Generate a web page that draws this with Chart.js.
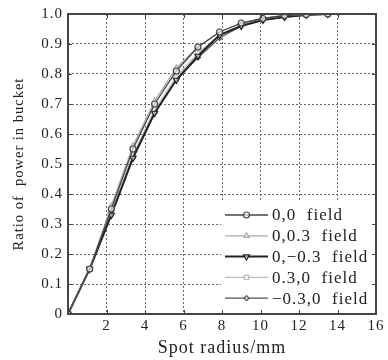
<!DOCTYPE html>
<html>
<head>
<meta charset="utf-8">
<script src="https://cdn.jsdelivr.net/npm/chart.js@4/dist/chart.umd.min.js"></script>
<style>
html,body{margin:0;padding:0;background:#fff;}
#wrap{width:388px;height:360px;position:relative;}
</style>
</head>
<body>
<div id="wrap"><canvas id="c" width="388" height="360"></canvas></div>
<script>
const spotRadius = [0, 1.125, 2.25, 3.375, 4.5, 5.625, 6.75, 7.875, 9, 10.125, 11.25, 12.375, 13.5];
const labels = ['0,0  field', '0,0.3  field', '0,\u22120.3  field', '0.3,0  field', '\u22120.3,0  field'];
const field00   = [0, 0.15, 0.35, 0.55, 0.70, 0.81, 0.89, 0.94, 0.97, 0.985, 0.995, 0.998, 1.0];
const field003  = [0, 0.15, 0.36, 0.56, 0.71, 0.82, 0.89, 0.94, 0.97, 0.985, 0.995, 0.998, 1.0];
const field0m03 = [0, 0.15, 0.33, 0.52, 0.67, 0.78, 0.86, 0.93, 0.96, 0.98, 0.99, 0.997, 1.0];
const field030  = [0, 0.15, 0.34, 0.53, 0.68, 0.79, 0.87, 0.93, 0.965, 0.98, 0.99, 0.997, 1.0];
const fieldm030 = [0, 0.15, 0.33, 0.52, 0.67, 0.78, 0.855, 0.92, 0.96, 0.98, 0.99, 0.997, 1.0];
const xTicks = [2, 4, 6, 8, 10, 12, 14, 16];
const yTicks = [0, 0.1, 0.2, 0.3, 0.4, 0.5, 0.6, 0.7, 0.8, 0.9, 1.0];

const seriesValues = [field00, field003, field0m03, field030, fieldm030];
const styles = [
  {color:'#444', style:'circle', w:1.3, r:3},
  {color:'#aaa', style:'triangle', w:1.3, r:3},
  {color:'#222', style:'triangle', rot:180, w:2, r:3.5},
  {color:'#bbb', style:'rect', w:1.3, r:3},
  {color:'#555', style:'rectRot', w:1.2, r:2.5}
];
const datasets = seriesValues.map((vals, i) => ({
  label: labels[i],
  data: spotRadius.map((x, j) => ({x: x, y: vals[j]})),
  borderColor: styles[i].color,
  backgroundColor: '#fff',
  borderWidth: styles[i].w,
  pointStyle: styles[i].style,
  pointRotation: styles[i].rot || 0,
  pointRadius: styles[i].r,
  pointBorderWidth: 1.2,
  pointBorderColor: styles[i].color,
  pointBackgroundColor: 'rgba(255,255,255,0.6)',
  tension: 0
}));

const FONT = '"Liberation Serif", "DejaVu Serif", serif';
const TEXT = '#222';

const spacingPlugin = {
  id: 'spacing',
  beforeInit(chart) { chart.ctx.letterSpacing = '1px'; },
  beforeLayout(chart) { chart.ctx.letterSpacing = '1px'; },
  beforeDraw(chart) { chart.ctx.letterSpacing = '1px'; }
};

const overlayPlugin = {
  id: 'overlay',
  afterDraw(chart) {
    const {ctx} = chart;
    const a = chart.chartArea;
    ctx.save();
    const x0 = a.right - 151, lineLen = 43, gap = 4, startY = a.bottom - 99, step = 20.8;
    ctx.fillStyle = '#fff';
    ctx.fillRect(a.left + 153, a.bottom - 113, a.right - a.left - 153, 112);
    ctx.font = '17px ' + FONT;
    ctx.letterSpacing = '1px';
    ctx.textBaseline = 'middle';
    chart.data.datasets.forEach((ds, i) => {
      const y = startY + i * step;
      ctx.strokeStyle = ds.borderColor;
      ctx.lineWidth = ds.borderWidth;
      ctx.beginPath();
      ctx.moveTo(x0, y);
      ctx.lineTo(x0 + lineLen, y);
      ctx.stroke();
      ctx.lineWidth = ds.pointBorderWidth;
      ctx.fillStyle = ds.pointBackgroundColor;
      Chart.helpers.drawPoint(ctx, {pointStyle: ds.pointStyle, rotation: ds.pointRotation, radius: ds.pointRadius, borderWidth: ds.pointBorderWidth}, x0 + lineLen / 2, y);
      ctx.fillStyle = TEXT;
      ctx.fillText(ds.label, x0 + lineLen + gap, y + 1);
    });
    ctx.strokeStyle = '#444';
    ctx.lineWidth = 1;
    const xs = chart.scales.x, ys = chart.scales.y;
    ctx.beginPath();
    xTicks.slice(0, -1).forEach(v => {
      const px = Math.round(xs.getPixelForValue(v)) + 0.5;
      ctx.moveTo(px, a.bottom); ctx.lineTo(px, a.bottom - 4);
      ctx.moveTo(px, a.top); ctx.lineTo(px, a.top + 4);
    });
    yTicks.slice(1, -1).forEach(v => {
      const py = Math.round(ys.getPixelForValue(v)) + 0.5;
      ctx.moveTo(a.left, py); ctx.lineTo(a.left + 4, py);
      ctx.moveTo(a.right, py); ctx.lineTo(a.right - 4, py);
    });
    ctx.stroke();
    ctx.strokeStyle = '#444';
    ctx.lineWidth = 2;
    ctx.strokeRect(a.left, a.top, a.right - a.left, a.bottom - a.top);
    ctx.restore();
  }
};

new Chart(document.getElementById('c'), {
  type: 'line',
  data: {datasets: datasets},
  options: {
    responsive: false,
    animation: false,
    devicePixelRatio: 1,
    layout: {padding: {top: 9, right: 12, left: 10, bottom: 0}},
    plugins: {legend: {display: false}, tooltip: {enabled: false}},
    scales: {
      x: {
        type: 'linear', min: 0, max: 16,
        afterBuildTicks(scale) { scale.ticks = [0].concat(xTicks).map(v => ({value: v})); },
        afterFit(scale) { scale.height = 46; },
        ticks: {
          color: TEXT, font: {family: FONT, size: 15}, padding: 3, maxRotation: 0,
          callback: v => v === 0 ? '' : String(v)
        },
        grid: {color: '#666', lineWidth: 1, drawTicks: false},
        border: {display: false, dash: [2, 2]},
        title: {display: true, text: 'Spot radius/mm', color: TEXT, font: {family: FONT, size: 18}, padding: {top: 0, bottom: 1}}
      },
      y: {
        type: 'linear', min: 0, max: 1,
        afterBuildTicks(scale) { scale.ticks = yTicks.map(v => ({value: v})); },
        afterFit(scale) { scale.width = 58; },
        ticks: {
          color: TEXT, font: {family: FONT, size: 15}, padding: 5,
          callback: v => v === 0 ? '0' : v.toFixed(1)
        },
        grid: {color: '#666', lineWidth: 1, drawTicks: false},
        border: {display: false, dash: [2, 2]},
        title: {display: true, text: 'Ratio of  power in bucket', color: TEXT, font: {family: FONT, size: 14.5}, padding: {top: 0, bottom: 0}}
      }
    }
  },
  plugins: [spacingPlugin, overlayPlugin]
});
</script>
</body>
</html>
